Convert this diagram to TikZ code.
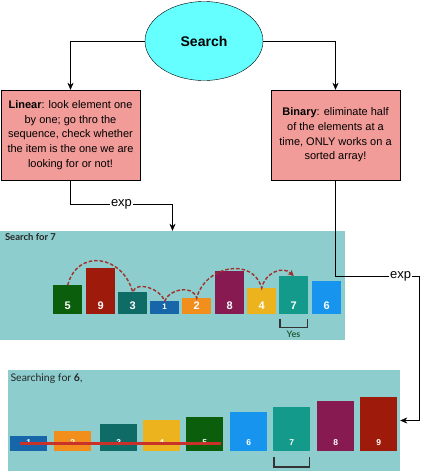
\documentclass[tikz,border=0pt]{standalone}
\usepackage{fontspec}
\setmainfont{Liberation Sans}
\newfontfamily\captionfont{Lato}
\usetikzlibrary{arrows.meta,shapes.geometric}

\definecolor{searchcyan}{HTML}{66FFFF}
\definecolor{boxpink}{HTML}{F19C99}
\definecolor{panelteal}{HTML}{8ECDCE}
\definecolor{barGreen}{HTML}{0B5E0C}
\definecolor{barRed}{HTML}{9E1A0A}
\definecolor{barDarkTeal}{HTML}{0F6B66}
\definecolor{barNavy}{HTML}{1666A9}
\definecolor{barOrange}{HTML}{F18E1C}
\definecolor{barPurple}{HTML}{861A51}
\definecolor{barYellow}{HTML}{EDB31E}
\definecolor{barTeal}{HTML}{149A8B}
\definecolor{barBlue}{HTML}{1795EE}
\definecolor{hopred}{HTML}{A0302A}
\definecolor{strikered}{HTML}{C8322A}
\definecolor{yesgreen}{HTML}{24603A}

\begin{document}
\begin{tikzpicture}[x=1pt,y=-1pt,
    flow/.style={draw, -{Stealth[length=7pt,width=6pt]}},
    lbl/.style={fill=white, inner sep=1pt, font=\fontsize{13}{13}\selectfont},
    box/.style={draw, fill=boxpink, minimum height=90pt, align=center,
      inner sep=1pt, font=\fontsize{11}{14.6}\selectfont},
    panel/.style={fill=panelteal, inner sep=0pt},
    barA/.style={fill=#1, anchor=south west, inner ysep=0pt, text depth=5pt,
      minimum width=29pt, text=white, font=\bfseries\fontsize{11}{11}\selectfont},
    barB/.style={fill=#1, anchor=south west, inner ysep=0pt, text depth=5pt,
      minimum width=37pt, text=white, font=\bfseries\fontsize{8.5}{8.5}\selectfont},
    hop/.style={draw=hopred, line width=1.4pt, dash pattern=on 3.5pt off 2pt,
      -{Stealth[length=6pt,width=6pt]}},
    brk/.style={draw=black!80, line width=1.6pt},
    strike/.style={draw=strikered, line width=2.6pt}]

  \useasboundingbox (0,0) rectangle (429,471);

  % top of the tree
  \node[ellipse, draw, fill=searchcyan, minimum width=118pt, minimum height=79pt,
    font=\bfseries\fontsize{14}{14}\selectfont] (search) at (204,41) {Search};

  \node[box, minimum width=139pt] (linear) at (70.5,135)
    {\textbf{Linear}: look element one\\ by one; go thro the\\ sequence, check whether\\
     the item is the one we are\\ looking for or not!};
  \node[box, minimum width=129pt] (binary) at (335.5,135)
    {\textbf{Binary}: eliminate half\\ of the elements at a\\ time, ONLY works on a\\
     sorted array!};

  % the two example pictures
  \node[panel, minimum width=345pt, minimum height=109pt] (panelA) at (172.5,285.5) {};
  \node[panel, minimum width=392pt, minimum height=101pt] (panelB) at (204,420.5) {};

  \node[anchor=west, text=black!85, font=\captionfont\bfseries\fontsize{9.5}{9.5}\selectfont]
    (titleA) at (1.5,237) {Search for 7};
  \node[anchor=west, text=black!85, font=\captionfont\fontsize{10.5}{10.5}\selectfont]
    (titleB) at (7,379) {Searching for \textbf{6},};

  % linear search, unsorted
  \node[barA=barGreen, text height=24pt] (a5) at (53,314.5) {5};
  \node[barA=barRed, text height=41pt] (a9) at (86,314.5) {9};
  \node[barA=barDarkTeal, text height=17pt] (a3) at (118,314.5) {3};
  \node[barA=barNavy, text height=8pt, font=\bfseries\fontsize{8}{8}\selectfont] (a1) at (150,314.5) {1};
  \node[barA=barOrange, text height=11pt] (a2) at (182,314.5) {2};
  \node[barA=barPurple, text height=38pt] (a8) at (215,314.5) {8};
  \node[barA=barYellow, text height=21pt] (a4) at (247,314.5) {4};
  \node[barA=barTeal, text height=33pt] (a7) at (279,314.5) {7};
  \node[barA=barBlue, text height=28pt] (a6) at (312,314.5) {6};

  \draw[hop] (a5.north) .. controls +(10,-37) and +(-10,-37) .. (a3.north)
    .. controls +(4,-12) and +(-4,-12) .. (a1.north)
    .. controls +(4,-12) and +(-4,-14) .. (a2.north)
    .. controls +(8,-32) and +(-9,-32) .. (a4.north)
    .. controls +(3,-15) and +(-11,-11) .. (a7.north);

  \draw[brk] ([xshift=1pt,yshift=-4pt]a7.south west) -- ++(0,9)
    -| ([xshift=-1pt,yshift=-4pt]a7.south east);
  \node[text=yesgreen, font=\captionfont\bfseries\fontsize{9}{9}\selectfont]
    (yes) at (293.5,334) {Yes};

  % binary search, sorted
  \node[barB=barNavy, text height=10pt] (b1) at (10,451) {1};
  \node[barB=barOrange, text height=15pt] (b2) at (54,451) {2};
  \node[barB=barDarkTeal, text height=22pt] (b3) at (100,451) {3};
  \node[barB=barYellow, text height=26pt] (b4) at (143,451) {4};
  \node[barB=barGreen, text height=29pt] (b5) at (186,451) {5};
  \node[barB=barBlue, text height=34pt] (b6) at (230,451) {6};
  \node[barB=barTeal, text height=39pt] (b7) at (273,451) {7};
  \node[barB=barPurple, text height=45pt] (b8) at (317,451) {8};
  \node[barB=barRed, text height=49pt] (b9) at (360,451) {9};

  \draw[strike, shorten <=-8.5pt, shorten >=-16pt] (b1.center) -- (b1.center -| b5.center);
  \draw[brk] ([xshift=1pt,yshift=-6pt]b7.south west) -- ++(0,10)
    -| ([xshift=-1pt,yshift=-6pt]b7.south east);

  % connectors
  \coordinate (turnB) at (419,276);
  \draw[flow] (search.west) -| (linear.north);
  \draw[flow] (search.east) -| (binary.north);
  \draw[flow] (linear.south) -- ++(0,24) -| node[lbl, pos=.25] {exp} (panelA.north);
  \draw[flow] (binary.south) |- node[lbl, pos=.89] {exp} (turnB) |- (panelB.east);

\end{tikzpicture}
\end{document}
